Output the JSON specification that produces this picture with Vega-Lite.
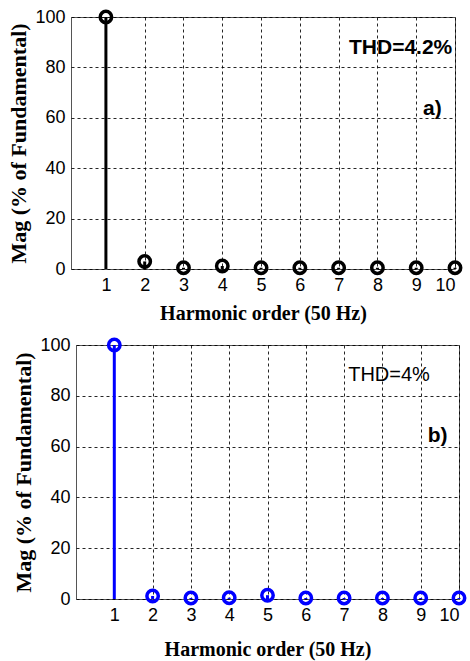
{
  "$schema": "https://vega.github.io/schema/vega-lite/v6.json",
  "padding": {"left": 7, "top": 3, "right": 5, "bottom": 5},
  "bounds": "flush",
  "spacing": 76,
  "config": {
    "view": {"stroke": "#555", "strokeWidth": 1},
    "axis": {
      "grid": true, "gridColor": "#000", "gridDash": [3, 3], "gridWidth": 1, "gridOpacity": 0.85,
      "domain": false, "ticks": false,
      "labelFont": "Liberation Sans", "labelFontSize": 18, "labelColor": "#000",
      "titleFont": "Liberation Serif", "titleFontWeight": "bold", "titleColor": "#000"
    }
  },
  "data": {"values": [
    {"panel": "a", "h": 1, "mag": 100}, {"panel": "a", "h": 2, "mag": 3.0}, {"panel": "a", "h": 3, "mag": 0.5},
    {"panel": "a", "h": 4, "mag": 1.2}, {"panel": "a", "h": 5, "mag": 0.5}, {"panel": "a", "h": 6, "mag": 0.5},
    {"panel": "a", "h": 7, "mag": 0.5}, {"panel": "a", "h": 8, "mag": 0.5}, {"panel": "a", "h": 9, "mag": 0.5},
    {"panel": "a", "h": 10, "mag": 0.5},
    {"panel": "b", "h": 1, "mag": 100}, {"panel": "b", "h": 2, "mag": 1.2}, {"panel": "b", "h": 3, "mag": 0.4},
    {"panel": "b", "h": 4, "mag": 0.5}, {"panel": "b", "h": 5, "mag": 1.5}, {"panel": "b", "h": 6, "mag": 0.4},
    {"panel": "b", "h": 7, "mag": 0.4}, {"panel": "b", "h": 8, "mag": 0.4}, {"panel": "b", "h": 9, "mag": 0.4},
    {"panel": "b", "h": 10, "mag": 0.4}
  ]},
  "vconcat": [
    {
      "width": 384, "height": 252,
      "layer": [
        {
          "transform": [{"filter": "datum.panel == 'a'"}],
          "mark": {"type": "rule", "strokeWidth": 3, "color": "#000"},
          "encoding": {
            "x": {"field": "h", "type": "quantitative", "scale": {"domain": [0.1, 10], "nice": false},
                  "axis": {"values": [1,2,3,4,5,6,7,8,9,10], "title": "Harmonic order (50 Hz)", "labelPadding": 7, "titlePadding": 9, "titleFontSize": 20}},
            "y": {"field": "mag", "type": "quantitative", "scale": {"domain": [0, 100], "nice": false},
                  "axis": {"values": [0,20,40,60,80,100], "title": "Mag (% of Fundamental)", "labelPadding": 6, "titlePadding": 4, "titleFontSize": 22}},
            "y2": {"datum": 0}
          }
        },
        {
          "transform": [{"filter": "datum.panel == 'a'"}],
          "mark": {"type": "point", "filled": false, "strokeWidth": 3.5, "size": 130, "color": "#000", "opacity": 1},
          "encoding": {
            "x": {"field": "h", "type": "quantitative", "scale": {"domain": [0.1, 10], "nice": false}},
            "y": {"field": "mag", "type": "quantitative", "scale": {"domain": [0, 100], "nice": false}}
          }
        },
        {
          "data": {"values": [{"h": 9.93, "mag": 87.7, "label": "THD=4.2%"}, {"h": 9.66, "mag": 63.5, "label": "a)"}]},
          "mark": {"type": "text", "align": "right", "baseline": "middle", "font": "Liberation Sans", "fontSize": 21, "fontWeight": "bold", "color": "#000"},
          "encoding": {
            "x": {"field": "h", "type": "quantitative", "scale": {"domain": [0.1, 10], "nice": false}},
            "y": {"field": "mag", "type": "quantitative", "scale": {"domain": [0, 100], "nice": false}},
            "text": {"field": "label"}
          }
        }
      ]
    },
    {
      "bounds": "flush",
      "spacing": 4,
      "hconcat": [
        {
          "width": 1, "height": 254,
          "view": {"stroke": null},
          "mark": {"type": "rule", "opacity": 0},
          "encoding": {}
        },
        {
          "width": 383, "height": 254,
          "layer": [
            {
              "transform": [{"filter": "datum.panel == 'b'"}],
              "mark": {"type": "rule", "strokeWidth": 3, "color": "#0000ff"},
              "encoding": {
                "x": {"field": "h", "type": "quantitative", "scale": {"domain": [0, 10], "nice": false},
                      "axis": {"values": [1,2,3,4,5,6,7,8,9,10], "title": "Harmonic order (50 Hz)", "labelPadding": 7, "titlePadding": 15, "titleFontSize": 20}},
                "y": {"field": "mag", "type": "quantitative", "scale": {"domain": [0, 100], "nice": false},
                      "axis": {"values": [0,20,40,60,80,100], "title": "Mag (% of Fundamental)", "labelPadding": 6, "titlePadding": 4, "titleFontSize": 22}},
                "y2": {"datum": 0}
              }
            },
            {
              "transform": [{"filter": "datum.panel == 'b'"}],
              "mark": {"type": "point", "filled": false, "strokeWidth": 3.5, "size": 130, "color": "#0000ff", "opacity": 1},
              "encoding": {
                "x": {"field": "h", "type": "quantitative", "scale": {"domain": [0, 10], "nice": false}},
                "y": {"field": "mag", "type": "quantitative", "scale": {"domain": [0, 100], "nice": false}}
              }
            },
            {
              "data": {"values": [{"h": 9.24, "mag": 88, "label": "THD=4%"}]},
              "mark": {"type": "text", "align": "right", "baseline": "middle", "font": "Liberation Sans", "fontSize": 20, "color": "#000"},
              "encoding": {
                "x": {"field": "h", "type": "quantitative", "scale": {"domain": [0, 10], "nice": false}},
                "y": {"field": "mag", "type": "quantitative", "scale": {"domain": [0, 100], "nice": false}},
                "text": {"field": "label"}
              }
            },
            {
              "data": {"values": [{"h": 9.7, "mag": 64, "label": "b)"}]},
              "mark": {"type": "text", "align": "right", "baseline": "middle", "font": "Liberation Sans", "fontSize": 21, "fontWeight": "bold", "color": "#000"},
              "encoding": {
                "x": {"field": "h", "type": "quantitative", "scale": {"domain": [0, 10], "nice": false}},
                "y": {"field": "mag", "type": "quantitative", "scale": {"domain": [0, 100], "nice": false}},
                "text": {"field": "label"}
              }
            }
          ]
        }
      ]
    }
  ]
}
